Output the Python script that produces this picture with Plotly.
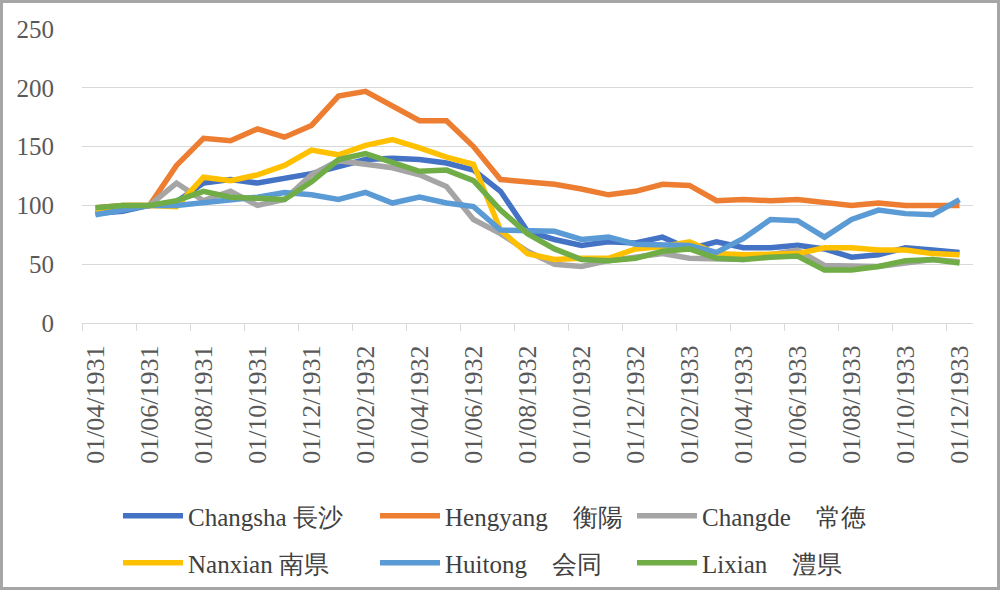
import plotly.graph_objects as go

months = ["01/04/1931", "01/05/1931", "01/06/1931", "01/07/1931", "01/08/1931", "01/09/1931",
          "01/10/1931", "01/11/1931", "01/12/1931", "01/01/1932", "01/02/1932", "01/03/1932",
          "01/04/1932", "01/05/1932", "01/06/1932", "01/07/1932", "01/08/1932", "01/09/1932",
          "01/10/1932", "01/11/1932", "01/12/1932", "01/01/1933", "01/02/1933", "01/03/1933",
          "01/04/1933", "01/05/1933", "01/06/1933", "01/07/1933", "01/08/1933", "01/09/1933",
          "01/10/1933", "01/11/1933", "01/12/1933"]

changsha = [93, 95, 100, 103, 119, 122, 119, 123, 127, 133, 139, 140, 139, 136, 130, 112, 78,
            71, 66, 69, 68, 73, 63, 69, 64, 64, 66, 63, 56, 58, 64, 62, 60]
hengyang = [98, 100, 100, 134, 157, 155, 165, 158, 168, 193, 197, 184, 172, 172, 150, 122, 120,
            118, 114, 109, 112, 118, 117, 104, 105, 104, 105, 103, 100, 102, 100, 100, 100]
changde = [94, 97, 100, 119, 104, 112, 100, 105, 126, 138, 135, 132, 126, 116, 88, 76, 61,
           50, 48, 53, 56, 59, 55, 54, 54, 58, 62, 49, 49, 48, 51, 54, 52]
nanxian = [97, 100, 100, 99, 124, 121, 126, 134, 147, 143, 151, 156, 149, 141, 135, 79, 59,
           54, 55, 55, 63, 65, 69, 59, 58, 59, 59, 64, 64, 62, 62, 59, 58]
huitong = [92, 96, 100, 100, 102, 105, 107, 111, 109, 105, 111, 102, 107, 102, 99, 79, 78,
           78, 71, 73, 67, 66, 66, 60, 72, 88, 87, 73, 88, 96, 93, 92, 105]
lixian = [98, 100, 100, 104, 112, 107, 106, 105, 120, 139, 144, 137, 129, 130, 121, 96, 76,
          63, 54, 53, 55, 61, 63, 55, 54, 56, 57, 45, 45, 48, 53, 54, 51]

series = [
    ("Changsha 長沙", changsha, "#4472C4", "legend"),
    ("Hengyang\u3000衡陽", hengyang, "#ED7D31", "legend"),
    ("Changde\u3000常徳", changde, "#A5A5A5", "legend"),
    ("Nanxian 南県", nanxian, "#FFC000", "legend2"),
    ("Huitong\u3000会同", huitong, "#5B9BD5", "legend2"),
    ("Lixian\u3000澧県", lixian, "#70AD47", "legend2"),
]

FONT = "Liberation Serif, Noto Sans CJK JP, serif"
W, H = 1000, 590
L, R, T, B = 82, 27, 29, 267
PW, PH = W - L - R, H - T - B

idx = list(range(len(months)))
fig = go.Figure()
for name, vals, color, lg in series:
    fig.add_trace(go.Scatter(x=idx, y=vals, name=name, mode="lines",
                             line=dict(color=color, width=5.5),
                             legend=lg))

major = idx[::2]
minor = [i - 0.5 for i in idx[::2]]

def px2paper_y(p):
    return (H - B - p) / PH

def px2paper_x(p):
    return (p - L) / PW

legend_common = dict(orientation="h", entrywidth=182, entrywidthmode="pixels",
                     itemwidth=60, font=dict(family="Liberation Serif", size=25, color="#404040"),
                     bgcolor="rgba(0,0,0,0)", xanchor="left", yanchor="middle",
                     tracegroupgap=0)

fig.update_layout(
    width=W, height=H,
    margin=dict(l=L, r=R, t=T, b=B, autoexpand=False),
    paper_bgcolor="white", plot_bgcolor="white",
    font=dict(family=FONT, size=25, color="#595959"),
    xaxis=dict(range=[-0.5, len(months) - 0.5], tickmode="array", tickvals=major,
               ticktext=[months[i] for i in major], tickangle=-90,
               ticks="outside", ticklen=11, tickcolor="rgba(0,0,0,0)",
               showline=True, linecolor="#D9D9D9", linewidth=1,
               showgrid=False, zeroline=False,
               tickfont=dict(family=FONT, size=26, color="#595959"),
               minor=dict(tickmode="array", tickvals=minor, ticks="outside",
                          ticklen=7, tickcolor="#D9D9D9", tickwidth=1, showgrid=False)),
    yaxis=dict(range=[0, 250], tickmode="linear", tick0=0, dtick=50,
               showgrid=True, gridcolor="#D9D9D9", gridwidth=1, zeroline=False,
               showline=False, ticks="outside", ticklen=22, tickcolor="rgba(0,0,0,0)",
               tickfont=dict(family=FONT, size=25, color="#595959")),
    legend=dict(x=px2paper_x(118), y=px2paper_y(516), **legend_common),
    legend2=dict(x=px2paper_x(118), y=px2paper_y(563), **legend_common),
    shapes=[dict(type="rect", xref="paper", yref="paper",
                 x0=px2paper_x(0), x1=px2paper_x(W), y0=px2paper_y(H), y1=px2paper_y(0),
                 line=dict(color="#A6A6A6", width=6), fillcolor="rgba(0,0,0,0)", layer="above")],
)

fig.write_html("out.html", config={"displayModeBar": False})
with open("out.html", encoding="utf-8") as f:
    html = f.read()
html = html.replace("<body>", '<body style="margin:0;padding:0;overflow:hidden">', 1)
with open("out.html", "w", encoding="utf-8") as f:
    f.write(html)
